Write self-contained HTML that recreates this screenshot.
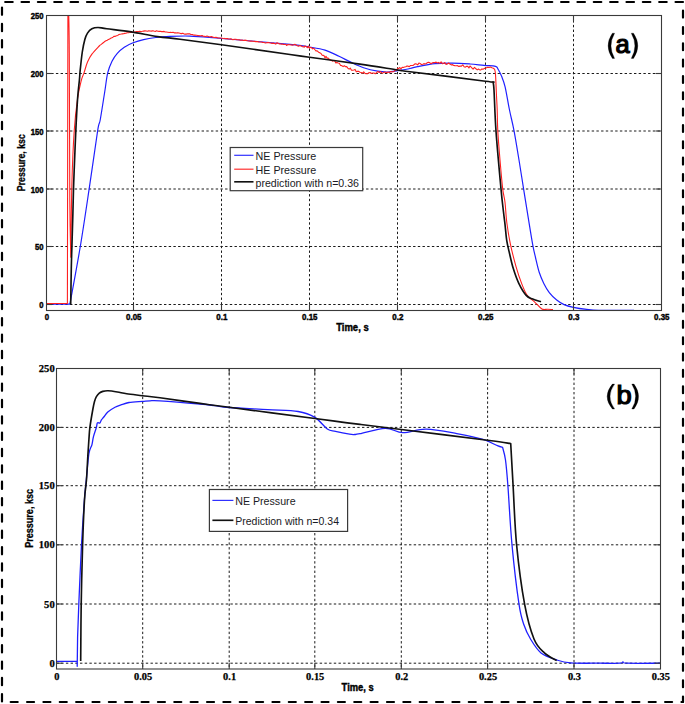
<!DOCTYPE html>
<html><head><meta charset="utf-8"><title>Pressure plots</title>
<style>
html,body{margin:0;padding:0;background:#fff;}
body{width:685px;height:704px;overflow:hidden;font-family:"Liberation Sans", sans-serif;}
svg{display:block;}
</style></head>
<body>
<svg width="685" height="704" viewBox="0 0 685 704" font-family='"Liberation Sans", sans-serif'>
<rect width="685" height="704" fill="#fff"/>
<g stroke="#000" stroke-width="2.2" fill="none" stroke-linecap="round">
<line x1="5.2" y1="2" x2="683" y2="2" stroke-dasharray="7.5 8.85"/>
<line x1="2" y1="7.5" x2="2" y2="702" stroke-dasharray="7.3 9.05"/>
<line x1="10.7" y1="702" x2="683" y2="702" stroke-dasharray="7.0 9.36"/>
<line x1="683" y1="10.7" x2="683" y2="702" stroke-dasharray="6.9 9.43"/>
</g>
<defs><clipPath id="ca"><rect x="46.5" y="15.5" width="615.0" height="295.6"/></clipPath>
<clipPath id="cb"><rect x="56.5" y="368.5" width="604" height="301"/></clipPath></defs>
<g stroke="#1a1a1a" stroke-width="1" stroke-dasharray="2.4 2.3" fill="none">
<line x1="133.5" y1="15.5" x2="133.5" y2="310.5"/>
<line x1="221.5" y1="15.5" x2="221.5" y2="310.5"/>
<line x1="309.5" y1="15.5" x2="309.5" y2="310.5"/>
<line x1="397.5" y1="15.5" x2="397.5" y2="310.5"/>
<line x1="485.5" y1="15.5" x2="485.5" y2="310.5"/>
<line x1="573.5" y1="15.5" x2="573.5" y2="310.5"/>
<line x1="46.5" y1="73.5" x2="661.5" y2="73.5"/>
<line x1="46.5" y1="131.0" x2="661.5" y2="131.0"/>
<line x1="46.5" y1="189.0" x2="661.5" y2="189.0"/>
<line x1="46.5" y1="246.5" x2="661.5" y2="246.5"/>
<line x1="46.5" y1="304.5" x2="661.5" y2="304.5"/>
</g>
<g clip-path="url(#ca)" fill="none" stroke-linejoin="round">
<path d="M46.50,304.20 C50.40,304.20 66.00,304.20 69.90,304.20 C71.63,294.58 77.08,265.75 80.30,246.50 C83.52,227.25 86.32,207.95 89.20,188.70 C92.08,169.45 95.77,142.45 97.60,131.00 C99.43,119.55 99.02,126.50 100.20,120.00 C101.38,113.50 103.45,99.85 104.70,92.00 C105.95,84.15 106.48,78.03 107.70,72.90 C108.92,67.77 110.40,64.47 112.00,61.20 C113.60,57.93 115.25,55.63 117.30,53.30 C119.35,50.97 121.67,48.95 124.30,47.20 C126.93,45.45 129.88,44.07 133.10,42.80 C136.32,41.53 139.82,40.48 143.60,39.60 C147.38,38.72 152.00,38.00 155.80,37.50 C159.60,37.00 160.70,36.83 166.40,36.60 C172.10,36.37 180.82,35.78 190.00,36.10 C199.18,36.42 204.83,37.12 221.50,38.50 C238.17,39.88 275.37,42.98 290.00,44.40 C304.63,45.82 303.47,46.05 309.30,47.00 C315.13,47.95 320.05,48.55 325.00,50.10 C329.95,51.65 334.62,54.25 339.00,56.30 C343.38,58.35 347.20,60.50 351.30,62.40 C355.40,64.30 359.22,66.23 363.60,67.70 C367.98,69.17 373.53,70.48 377.60,71.20 C381.67,71.92 384.65,72.10 388.00,72.00 C391.35,71.90 394.03,71.18 397.70,70.60 C401.37,70.02 406.70,69.17 410.00,68.50 C413.30,67.83 413.33,67.40 417.50,66.60 C421.67,65.80 429.15,64.28 435.00,63.70 C440.85,63.12 446.77,63.05 452.60,63.10 C458.43,63.15 464.77,63.62 470.00,64.00 C475.23,64.38 479.75,65.02 484.00,65.40 C488.25,65.78 493.15,65.65 495.50,66.30 C497.85,66.95 497.08,67.63 498.10,69.30 C499.12,70.97 500.43,73.38 501.60,76.30 C502.77,79.22 503.78,81.18 505.10,86.80 C506.42,92.42 508.02,102.70 509.50,110.00 C510.98,117.30 512.42,122.27 514.00,130.60 C515.58,138.93 517.42,150.38 519.00,160.00 C520.58,169.62 521.98,178.82 523.50,188.30 C525.02,197.78 526.57,207.52 528.10,216.90 C529.63,226.28 531.47,237.83 532.70,244.60 C533.93,251.37 534.42,252.88 535.50,257.50 C536.58,262.12 537.82,267.98 539.20,272.30 C540.58,276.62 542.12,280.02 543.80,283.40 C545.48,286.78 547.15,289.83 549.30,292.60 C551.45,295.37 554.23,298.00 556.70,300.00 C559.17,302.00 561.32,303.38 564.10,304.60 C566.88,305.82 569.65,306.50 573.40,307.30 C577.15,308.10 582.37,308.90 586.60,309.40 C590.83,309.90 590.90,310.15 598.80,310.30 C606.70,310.45 628.13,310.30 634.00,310.30" stroke="#2020ff" stroke-width="1.2"/>
<path d="M46.50,303.50 C49.98,303.50 63.92,303.50 67.40,303.50 C67.48,254.58 67.82,58.92 67.90,10.00 C68.02,10.00 68.48,10.00 68.60,10.00 C68.72,17.17 69.10,21.33 69.30,53.00 C69.50,84.67 69.55,165.97 69.80,200.00 C70.05,234.03 70.63,247.67 70.80,257.20 C70.98,244.92 71.33,204.53 71.90,183.50 C72.47,162.47 73.25,145.18 74.20,131.00 C75.15,116.82 76.40,106.90 77.60,98.40 C78.80,89.90 80.33,84.25 81.40,80.00 C82.47,75.75 82.98,75.90 84.00,72.90 C85.02,69.90 86.18,65.12 87.50,62.00 C88.82,58.88 89.85,56.97 91.90,54.20 C93.95,51.43 98.48,46.87 99.80,45.40 L100.46,44.86 L101.32,44.37 L102.35,43.44 L103.49,42.56 L104.72,41.54 L105.99,40.80 L107.27,40.26 L108.50,39.39 L109.58,38.94 L110.68,38.23 L111.80,37.72 L112.94,37.17 L114.11,36.29 L115.30,36.35 L116.51,35.83 L117.74,35.41 L119.00,34.54 L120.13,34.20 L121.26,34.06 L122.39,33.85 L123.54,33.73 L124.71,33.40 L125.92,33.27 L127.17,32.79 L128.48,32.77 L129.85,32.58 L131.30,32.16 L132.39,32.52 L133.53,32.14 L134.70,32.15 L135.92,31.64 L137.16,31.49 L138.43,31.46 L139.72,31.41 L141.02,31.47 L142.33,31.30 L143.64,31.08 L144.95,30.91 L146.25,30.95 L147.53,31.28 L148.80,30.83 L150.06,31.05 L151.34,31.10 L152.64,30.72 L153.94,31.09 L155.24,31.41 L156.55,30.78 L157.84,31.21 L159.13,31.33 L160.41,31.27 L161.66,31.64 L162.89,31.61 L164.09,31.41 L165.27,31.99 L166.40,32.04 L167.80,32.21 L169.16,32.45 L170.49,32.36 L171.79,32.45 L173.06,32.30 L174.29,32.85 L175.49,32.74 L176.66,32.92 L177.80,32.88 L178.91,33.08 L180.00,33.29 L181.28,33.80 L182.25,33.20 L183.07,33.39 L183.88,33.81 L184.83,34.15 L186.07,34.09 L187.75,33.75 L190.00,33.87 L190.80,34.57 L191.62,34.43 L192.45,34.45 L193.29,34.99 L194.16,35.13 L195.04,35.04 L195.96,35.17 L196.89,35.33 L197.86,35.69 L198.87,35.62 L199.90,35.72 L200.98,35.86 L202.09,35.56 L203.25,36.30 L204.46,36.38 L205.71,36.44 L207.02,36.07 L208.37,36.51 L209.79,36.99 L211.26,36.60 L212.80,37.12 L214.40,37.55 L216.07,37.24 L217.81,38.04 L219.62,38.02 L221.50,38.07 L222.40,38.26 L223.33,38.43 L224.30,38.42 L225.30,38.73 L226.33,38.46 L227.40,38.62 L228.49,39.04 L229.61,38.93 L230.76,38.86 L231.94,39.36 L233.13,39.59 L234.35,39.31 L235.60,39.23 L236.86,39.62 L238.14,39.74 L239.44,39.84 L240.75,40.33 L242.08,39.95 L243.41,40.56 L244.77,40.16 L246.13,40.39 L247.50,40.82 L248.87,41.06 L250.26,41.14 L251.64,41.17 L253.03,41.26 L254.42,41.40 L255.82,41.64 L257.21,41.59 L258.60,41.84 L259.98,42.05 L261.36,42.04 L262.73,42.38 L264.09,42.46 L265.45,43.01 L266.79,42.67 L268.12,42.57 L269.44,42.72 L270.74,42.95 L272.03,43.38 L273.30,43.10 L274.54,43.46 L275.77,44.07 L276.98,42.70 L278.16,43.30 L279.32,43.89 L280.45,44.06 L281.55,44.12 L282.62,43.98 L283.67,44.49 L284.68,44.45 L285.66,44.25 L286.60,45.49 L287.51,44.78 L288.38,44.51 L289.21,44.78 L290.00,44.81 L292.58,45.15 L294.84,44.25 L296.82,45.41 L298.53,46.26 L300.02,45.45 L301.31,46.09 L302.42,46.70 L303.39,46.78 L304.24,47.20 L305.00,45.79 L305.70,46.55 L306.37,46.68 L307.04,47.29 L307.73,47.67 L308.47,45.98 L309.30,48.04 L311.11,47.26 L312.61,48.87 L313.86,48.30 L314.95,49.75 L315.95,50.89 L316.94,50.79 L318.00,51.60 L319.07,52.58 L320.07,52.88 L321.02,53.43 L321.96,55.03 L322.92,55.47 L323.92,55.42 L325.00,57.88 L325.98,56.26 L326.95,58.08 L327.94,58.02 L328.96,58.89 L330.04,59.88 L331.19,60.25 L332.44,61.18 L333.80,60.58 L334.79,61.08 L335.85,62.87 L336.98,62.45 L338.15,62.95 L339.36,63.23 L340.59,65.42 L341.83,65.65 L343.07,66.62 L344.30,65.70 L345.51,66.77 L346.68,66.56 L347.80,68.16 L349.08,69.18 L350.33,68.20 L351.54,70.17 L352.72,70.31 L353.90,70.07 L355.08,69.43 L356.26,71.86 L357.47,71.33 L358.72,71.35 L360.00,72.24 L361.21,72.46 L362.44,73.29 L363.69,71.93 L364.96,73.34 L366.24,73.63 L367.53,73.68 L368.83,72.74 L370.13,72.43 L371.43,73.50 L372.72,72.97 L374.00,72.97 L375.29,73.75 L376.60,72.71 L377.93,71.45 L379.27,72.54 L380.61,71.60 L381.93,73.12 L383.23,72.72 L384.49,72.05 L385.72,72.29 L386.89,72.65 L388.00,72.05 L389.40,72.56 L390.65,71.47 L391.82,71.84 L392.92,71.79 L394.02,71.52 L395.16,69.79 L396.37,70.33 L397.70,68.27 L398.75,68.43 L399.85,67.55 L400.98,68.99 L402.15,67.21 L403.34,67.54 L404.54,67.03 L405.75,66.73 L406.96,66.01 L408.16,66.15 L409.34,66.76 L410.50,65.43 L411.73,65.45 L412.94,65.50 L414.12,64.57 L415.29,63.75 L416.47,64.00 L417.66,64.83 L418.88,63.07 L420.13,63.57 L421.43,64.42 L422.80,64.18 L423.90,63.62 L425.04,64.01 L426.22,63.54 L427.43,62.65 L428.66,62.34 L429.91,62.83 L431.17,63.71 L432.42,62.77 L433.68,62.53 L434.92,62.59 L436.14,62.13 L437.34,62.99 L438.50,62.39 L439.83,63.39 L441.12,61.86 L442.37,63.61 L443.61,63.18 L444.83,62.57 L446.06,64.36 L447.30,63.96 L448.56,62.98 L449.86,64.00 L451.20,64.89 L452.60,64.62 L453.76,65.51 L454.96,65.63 L456.22,65.72 L457.50,65.66 L458.81,66.41 L460.14,66.15 L461.46,66.17 L462.78,64.80 L464.09,66.74 L465.36,67.14 L466.60,66.33 L467.80,66.39 L468.93,68.00 L470.00,65.95 L471.58,67.57 L473.09,69.09 L474.54,67.45 L475.91,68.79 L477.21,69.87 L478.42,68.99 L479.54,69.67 L480.57,70.06 L481.50,69.06 L483.36,69.10 L484.43,68.36 L485.80,68.00 L487.15,67.42 L488.78,67.42 L490.44,67.10 L491.89,67.68 L492.90,68.00 C493.18,68.22 494.32,69.08 494.60,69.30 C494.75,70.17 495.20,70.42 495.50,74.50 C495.80,78.58 496.12,87.88 496.40,93.80 C496.68,99.72 496.97,103.78 497.20,110.00 C497.43,116.22 497.33,122.77 497.80,131.10 C498.27,139.43 499.18,150.37 500.00,160.00 C500.82,169.63 501.87,181.87 502.70,188.90 C503.53,195.93 504.32,196.60 505.00,202.20 C505.68,207.80 505.88,215.43 506.80,222.50 C507.72,229.57 508.95,237.22 510.50,244.60 C512.05,251.98 514.25,260.33 516.10,266.80 C517.95,273.27 519.75,278.63 521.60,283.40 C523.45,288.17 525.05,292.33 527.20,295.40 C529.35,298.47 532.05,299.53 534.50,301.80 C536.95,304.07 539.73,307.77 541.90,309.00 C544.07,310.23 545.65,309.12 547.50,309.20 C549.35,309.28 552.08,309.45 553.00,309.50" stroke="#ff2020" stroke-width="1.1"/>
<path d="M70.70,304.50 C70.80,298.42 71.10,277.63 71.30,268.00 C71.50,258.37 71.63,255.87 71.90,246.70 C72.17,237.53 72.63,222.63 72.90,213.00 C73.17,203.37 73.28,196.07 73.50,188.90 C73.72,181.73 73.82,179.63 74.20,170.00 C74.58,160.37 75.23,143.03 75.80,131.10 C76.37,119.17 77.00,106.92 77.60,98.40 C78.20,89.88 78.97,84.70 79.40,80.00 C79.83,75.30 79.72,74.87 80.20,70.20 C80.68,65.53 81.52,57.15 82.30,52.00 C83.08,46.85 84.03,42.45 84.90,39.30 C85.77,36.15 86.33,34.85 87.50,33.10 C88.67,31.35 90.15,29.73 91.90,28.80 C93.65,27.87 95.52,27.50 98.00,27.50 C100.48,27.50 101.25,28.07 106.80,28.80 C112.35,29.53 122.83,30.60 131.30,31.90 C139.77,33.20 149.48,35.38 157.60,36.60 C165.72,37.82 169.35,37.85 180.00,39.20 C190.65,40.55 203.17,42.15 221.50,44.70 C239.83,47.25 275.33,52.42 290.00,54.50 C304.67,56.58 297.83,55.60 309.50,57.20 C321.17,58.80 345.30,61.97 360.00,64.10 C374.70,66.23 389.37,68.73 397.70,70.00 C406.03,71.27 395.37,69.83 410.00,71.70 C424.63,73.57 471.67,79.50 485.50,81.20 C499.33,82.90 491.75,81.78 493.00,81.90 C493.17,83.25 493.50,81.80 494.00,90.00 C494.50,98.20 494.83,114.62 496.00,131.10 C497.17,147.58 499.75,175.42 501.00,188.90 C502.25,202.38 502.83,206.10 503.50,212.00 C504.17,217.90 504.45,219.48 505.00,224.30 C505.55,229.12 506.03,235.98 506.80,240.90 C507.57,245.82 508.52,249.18 509.60,253.80 C510.68,258.42 511.77,263.67 513.30,268.60 C514.83,273.53 516.65,278.93 518.80,283.40 C520.95,287.87 523.88,292.78 526.20,295.40 C528.52,298.02 530.23,298.03 532.70,299.10 C535.17,300.17 539.62,301.35 541.00,301.80" stroke="#111" stroke-width="1.65"/>
</g>
<g stroke="#3a3a3a" stroke-width="1.1" fill="none">
<rect x="46.5" y="15.5" width="615.0" height="295.0"/>
<line x1="133.5" y1="310.5" x2="133.5" y2="304.5"/>
<line x1="133.5" y1="15.5" x2="133.5" y2="21.5"/>
<line x1="221.5" y1="310.5" x2="221.5" y2="304.5"/>
<line x1="221.5" y1="15.5" x2="221.5" y2="21.5"/>
<line x1="309.5" y1="310.5" x2="309.5" y2="304.5"/>
<line x1="309.5" y1="15.5" x2="309.5" y2="21.5"/>
<line x1="397.5" y1="310.5" x2="397.5" y2="304.5"/>
<line x1="397.5" y1="15.5" x2="397.5" y2="21.5"/>
<line x1="485.5" y1="310.5" x2="485.5" y2="304.5"/>
<line x1="485.5" y1="15.5" x2="485.5" y2="21.5"/>
<line x1="573.5" y1="310.5" x2="573.5" y2="304.5"/>
<line x1="573.5" y1="15.5" x2="573.5" y2="21.5"/>
<line x1="46.5" y1="73.5" x2="52.5" y2="73.5"/>
<line x1="661.5" y1="73.5" x2="655.5" y2="73.5"/>
<line x1="46.5" y1="131.0" x2="52.5" y2="131.0"/>
<line x1="661.5" y1="131.0" x2="655.5" y2="131.0"/>
<line x1="46.5" y1="189.0" x2="52.5" y2="189.0"/>
<line x1="661.5" y1="189.0" x2="655.5" y2="189.0"/>
<line x1="46.5" y1="246.5" x2="52.5" y2="246.5"/>
<line x1="661.5" y1="246.5" x2="655.5" y2="246.5"/>
<line x1="46.5" y1="304.5" x2="52.5" y2="304.5"/>
<line x1="661.5" y1="304.5" x2="655.5" y2="304.5"/>
</g>
<rect x="230.2" y="147.5" width="132.5" height="43.2" fill="#fff" stroke="#3a3a3a" stroke-width="1.2"/>
<line x1="234.2" y1="155.3" x2="253.5" y2="155.3" stroke="#3030ff" stroke-width="1.2"/>
<line x1="234.2" y1="169.2" x2="253.5" y2="169.2" stroke="#ff3030" stroke-width="1.2"/>
<line x1="234.2" y1="181.8" x2="253.5" y2="181.8" stroke="#111" stroke-width="1.65"/>
<g font-family='"Liberation Sans", sans-serif'>
<text x="255.5" y="159.9" font-size="10.4" font-weight="normal" text-anchor="start" fill="#1a1a24" textLength="60.8" lengthAdjust="spacingAndGlyphs">NE Pressure</text>
<text x="255.5" y="173.6" font-size="10.4" font-weight="normal" text-anchor="start" fill="#1a1a24" textLength="60.8" lengthAdjust="spacingAndGlyphs">HE Pressure</text>
<text x="255.5" y="187.2" font-size="10.4" font-weight="normal" text-anchor="start" fill="#1a1a24" textLength="103.5" lengthAdjust="spacingAndGlyphs">prediction with n=0.36</text>
<text x="43.6" y="19.0" font-size="8.4" font-weight="bold" text-anchor="end" fill="#000" textLength="12.899999999999999" lengthAdjust="spacingAndGlyphs" stroke="#000" stroke-width="0.4">250</text>
<text x="43.6" y="77.0" font-size="8.4" font-weight="bold" text-anchor="end" fill="#000" textLength="12.899999999999999" lengthAdjust="spacingAndGlyphs" stroke="#000" stroke-width="0.4">200</text>
<text x="43.6" y="134.5" font-size="8.4" font-weight="bold" text-anchor="end" fill="#000" textLength="12.899999999999999" lengthAdjust="spacingAndGlyphs" stroke="#000" stroke-width="0.4">150</text>
<text x="43.6" y="192.5" font-size="8.4" font-weight="bold" text-anchor="end" fill="#000" textLength="12.899999999999999" lengthAdjust="spacingAndGlyphs" stroke="#000" stroke-width="0.4">100</text>
<text x="43.6" y="250.0" font-size="8.4" font-weight="bold" text-anchor="end" fill="#000" textLength="8.6" lengthAdjust="spacingAndGlyphs" stroke="#000" stroke-width="0.4">50</text>
<text x="43.6" y="308.0" font-size="8.4" font-weight="bold" text-anchor="end" fill="#000" textLength="4.3" lengthAdjust="spacingAndGlyphs" stroke="#000" stroke-width="0.4">0</text>
<text x="46.8" y="320.2" font-size="8.4" font-weight="bold" text-anchor="middle" fill="#000" textLength="4.35" lengthAdjust="spacingAndGlyphs" stroke="#000" stroke-width="0.4">0</text>
<text x="133.8" y="320.2" font-size="8.4" font-weight="bold" text-anchor="middle" fill="#000" textLength="15.45" lengthAdjust="spacingAndGlyphs" stroke="#000" stroke-width="0.4">0.05</text>
<text x="221.8" y="320.2" font-size="8.4" font-weight="bold" text-anchor="middle" fill="#000" textLength="11.1" lengthAdjust="spacingAndGlyphs" stroke="#000" stroke-width="0.4">0.1</text>
<text x="309.8" y="320.2" font-size="8.4" font-weight="bold" text-anchor="middle" fill="#000" textLength="15.45" lengthAdjust="spacingAndGlyphs" stroke="#000" stroke-width="0.4">0.15</text>
<text x="397.8" y="320.2" font-size="8.4" font-weight="bold" text-anchor="middle" fill="#000" textLength="11.1" lengthAdjust="spacingAndGlyphs" stroke="#000" stroke-width="0.4">0.2</text>
<text x="485.8" y="320.2" font-size="8.4" font-weight="bold" text-anchor="middle" fill="#000" textLength="15.45" lengthAdjust="spacingAndGlyphs" stroke="#000" stroke-width="0.4">0.25</text>
<text x="573.8" y="320.2" font-size="8.4" font-weight="bold" text-anchor="middle" fill="#000" textLength="11.1" lengthAdjust="spacingAndGlyphs" stroke="#000" stroke-width="0.4">0.3</text>
<text x="661.8" y="320.2" font-size="8.4" font-weight="bold" text-anchor="middle" fill="#000" textLength="15.45" lengthAdjust="spacingAndGlyphs" stroke="#000" stroke-width="0.4">0.35</text>
<text x="336.2" y="330.7" font-size="10.8" font-weight="bold" text-anchor="start" fill="#000" textLength="32.5" lengthAdjust="spacingAndGlyphs" stroke="#000" stroke-width="0.4">Time, s</text>
<text transform="translate(24.8,191.2) rotate(-90)" font-size="11.4" font-weight="bold" stroke="#000" stroke-width="0.3" textLength="57" lengthAdjust="spacingAndGlyphs">Pressure, ksc</text>
<path d="M612.40,33.2 Q603.80,45.80 612.40,58.4 L614.60,58.4 Q607.40,45.80 614.60,33.2 Z" fill="#000" stroke="#000" stroke-width="0.3"/>
<path d="M633.50,33.2 Q642.10,45.80 633.50,58.4 L631.30,58.4 Q638.50,45.80 631.30,33.2 Z" fill="#000" stroke="#000" stroke-width="0.3"/>
<text x="615.6" y="53.3" font-size="25" font-weight="normal" text-anchor="start" fill="#000" textLength="14.2" lengthAdjust="spacingAndGlyphs" stroke="#000" stroke-width="1.2">a</text>
</g>
<g stroke="#1a1a1a" stroke-width="1" stroke-dasharray="2.4 2.3" fill="none">
<line x1="142.7" y1="368.5" x2="142.7" y2="669.0"/>
<line x1="229.2" y1="368.5" x2="229.2" y2="669.0"/>
<line x1="314.8" y1="368.5" x2="314.8" y2="669.0"/>
<line x1="401.3" y1="368.5" x2="401.3" y2="669.0"/>
<line x1="487.6" y1="368.5" x2="487.6" y2="669.0"/>
<line x1="574.0" y1="368.5" x2="574.0" y2="669.0"/>
<line x1="56.5" y1="427.4" x2="660.5" y2="427.4"/>
<line x1="56.5" y1="485.7" x2="660.5" y2="485.7"/>
<line x1="56.5" y1="544.8" x2="660.5" y2="544.8"/>
<line x1="56.5" y1="604.0" x2="660.5" y2="604.0"/>
<line x1="56.5" y1="663.2" x2="660.5" y2="663.2"/>
</g>
<g clip-path="url(#cb)" fill="none" stroke-linejoin="round">
<path d="M56.50,661.30 C59.95,661.30 73.75,661.30 77.20,661.30 C77.20,662.13 77.20,665.47 77.20,666.30 C77.27,661.42 77.53,641.88 77.60,637.00 C77.80,631.55 78.15,619.65 78.80,604.30 C79.45,588.95 80.57,562.28 81.50,544.90 C82.43,527.52 83.60,510.82 84.40,500.00 C85.20,489.18 85.55,487.72 86.30,480.00 C87.05,472.28 87.97,459.57 88.90,453.70 C89.83,447.83 91.15,447.62 91.90,444.80 C92.65,441.98 92.65,439.70 93.40,436.80 C94.15,433.90 95.73,429.72 96.40,427.40 C97.07,425.08 96.82,423.65 97.40,422.90 C97.98,422.15 99.23,423.40 99.90,422.90 C100.57,422.40 100.75,420.88 101.40,419.90 C102.05,418.92 102.73,418.32 103.80,417.00 C104.87,415.68 105.93,413.63 107.80,412.00 C109.67,410.37 112.82,408.38 115.00,407.20 C117.18,406.02 118.57,405.68 120.90,404.90 C123.23,404.12 125.40,403.08 129.00,402.50 C132.60,401.92 139.00,401.68 142.50,401.40 C146.00,401.12 147.08,400.90 150.00,400.80 C152.92,400.70 151.67,400.27 160.00,400.80 C168.33,401.33 190.83,403.18 200.00,404.00 C209.17,404.82 210.13,405.12 215.00,405.70 C219.87,406.28 220.42,406.83 229.20,407.50 C237.98,408.17 256.22,409.03 267.70,409.70 C279.18,410.37 290.23,410.22 298.10,411.50 C305.97,412.78 310.03,414.48 314.90,417.40 C319.77,420.32 323.87,426.67 327.30,429.00 C330.73,431.33 331.80,430.53 335.50,431.40 C339.20,432.27 346.32,433.68 349.50,434.20 C352.68,434.72 352.85,434.58 354.60,434.50 C356.35,434.42 354.88,434.73 360.00,433.70 C365.12,432.67 378.17,428.47 385.30,428.30 C392.43,428.13 396.00,432.55 402.80,432.70 C409.60,432.85 417.10,429.05 426.10,429.20 C435.10,429.35 447.32,431.90 456.80,433.60 C466.28,435.30 476.23,437.38 483.00,439.40 C489.77,441.42 494.13,444.37 497.40,445.70 C500.67,447.03 501.73,447.12 502.60,447.40 C503.08,449.50 504.62,453.62 505.50,460.00 C506.38,466.38 506.82,471.55 507.90,485.70 C508.98,499.85 510.15,525.15 512.00,544.90 C513.85,564.65 517.00,590.85 519.00,604.20 C521.00,617.55 522.08,619.20 524.00,625.00 C525.92,630.80 527.67,634.35 530.50,639.00 C533.33,643.65 536.65,649.42 541.00,652.90 C545.35,656.38 551.67,658.23 556.60,659.90 C561.53,661.57 563.37,662.35 570.60,662.90 C577.83,663.45 591.77,663.15 600.00,663.20 C608.23,663.25 616.17,663.40 620.00,663.20 C623.83,663.00 621.83,662.00 623.00,662.00 C624.17,662.00 620.75,663.00 627.00,663.20 C633.25,663.40 654.92,663.20 660.50,663.20" stroke="#2020ff" stroke-width="1.3"/>
<path d="M80.70,661.00 C80.78,651.55 80.88,623.65 81.20,604.30 C81.52,584.95 82.05,562.28 82.60,544.90 C83.15,527.52 83.85,510.90 84.50,500.00 C85.15,489.10 85.93,487.05 86.50,479.50 C87.07,471.95 87.50,461.32 87.90,454.70 C88.30,448.08 88.57,444.35 88.90,439.80 C89.23,435.25 89.23,432.53 89.90,427.40 C90.57,422.27 92.13,413.32 92.90,409.00 C93.67,404.68 93.92,403.55 94.50,401.50 C95.08,399.45 95.60,398.08 96.40,396.70 C97.20,395.32 98.23,394.08 99.30,393.20 C100.37,392.32 101.35,391.80 102.80,391.40 C104.25,391.00 105.57,390.70 108.00,390.80 C110.43,390.90 114.28,391.50 117.40,392.00 C120.52,392.50 122.52,393.18 126.70,393.80 C130.88,394.42 136.95,395.03 142.50,395.70 C148.05,396.37 150.42,396.52 160.00,397.80 C169.58,399.08 188.47,401.82 200.00,403.40 C211.53,404.98 210.05,404.78 229.20,407.30 C248.35,409.82 296.43,416.07 314.90,418.50 C333.37,420.93 332.48,420.92 340.00,421.90 C347.52,422.88 349.78,423.13 360.00,424.40 C370.22,425.67 380.07,426.85 401.30,429.50 C422.53,432.15 469.17,437.97 487.40,440.30 C505.63,442.63 506.82,442.97 510.70,443.50 C511.10,450.53 512.12,468.80 513.10,485.70 C514.08,502.60 514.68,525.15 516.60,544.90 C518.52,564.65 521.70,588.52 524.60,604.20 C527.50,619.88 530.70,630.88 534.00,639.00 C537.30,647.12 540.63,649.30 544.40,652.90 C548.17,656.50 554.57,659.32 556.60,660.60" stroke="#111" stroke-width="1.65"/>
</g>
<g stroke="#3a3a3a" stroke-width="1.1" fill="none">
<rect x="56.5" y="368.5" width="604.0" height="300.5"/>
<line x1="142.7" y1="669.0" x2="142.7" y2="663.0"/>
<line x1="142.7" y1="368.5" x2="142.7" y2="374.5"/>
<line x1="229.2" y1="669.0" x2="229.2" y2="663.0"/>
<line x1="229.2" y1="368.5" x2="229.2" y2="374.5"/>
<line x1="314.8" y1="669.0" x2="314.8" y2="663.0"/>
<line x1="314.8" y1="368.5" x2="314.8" y2="374.5"/>
<line x1="401.3" y1="669.0" x2="401.3" y2="663.0"/>
<line x1="401.3" y1="368.5" x2="401.3" y2="374.5"/>
<line x1="487.6" y1="669.0" x2="487.6" y2="663.0"/>
<line x1="487.6" y1="368.5" x2="487.6" y2="374.5"/>
<line x1="574.0" y1="669.0" x2="574.0" y2="663.0"/>
<line x1="574.0" y1="368.5" x2="574.0" y2="374.5"/>
<line x1="56.5" y1="427.4" x2="62.5" y2="427.4"/>
<line x1="660.5" y1="427.4" x2="654.5" y2="427.4"/>
<line x1="56.5" y1="485.7" x2="62.5" y2="485.7"/>
<line x1="660.5" y1="485.7" x2="654.5" y2="485.7"/>
<line x1="56.5" y1="544.8" x2="62.5" y2="544.8"/>
<line x1="660.5" y1="544.8" x2="654.5" y2="544.8"/>
<line x1="56.5" y1="604.0" x2="62.5" y2="604.0"/>
<line x1="660.5" y1="604.0" x2="654.5" y2="604.0"/>
<line x1="56.5" y1="663.2" x2="62.5" y2="663.2"/>
<line x1="660.5" y1="663.2" x2="654.5" y2="663.2"/>
</g>
<rect x="209.4" y="489.5" width="138.2" height="41.9" fill="#fff" stroke="#3a3a3a" stroke-width="1.2"/>
<line x1="212.4" y1="500.4" x2="233.4" y2="500.4" stroke="#3030ff" stroke-width="1.2"/>
<line x1="212.4" y1="520.3" x2="233.4" y2="520.3" stroke="#111" stroke-width="1.65"/>
<g font-family='"Liberation Sans", sans-serif'>
<text x="235.2" y="504.8" font-size="10.6" font-weight="normal" text-anchor="start" fill="#1a1a24" textLength="60.4" lengthAdjust="spacingAndGlyphs">NE Pressure</text>
<text x="235.2" y="525.3" font-size="10.6" font-weight="normal" text-anchor="start" fill="#1a1a24" textLength="103.8" lengthAdjust="spacingAndGlyphs">Prediction with n=0.34</text>
<text x="54.7" y="372.1" font-size="10.6" font-weight="bold" text-anchor="end" fill="#000" font-family="Liberation Serif, serif" stroke="#000" stroke-width="0.25">250</text>
<text x="54.7" y="431.0" font-size="10.6" font-weight="bold" text-anchor="end" fill="#000" font-family="Liberation Serif, serif" stroke="#000" stroke-width="0.25">200</text>
<text x="54.7" y="489.3" font-size="10.6" font-weight="bold" text-anchor="end" fill="#000" font-family="Liberation Serif, serif" stroke="#000" stroke-width="0.25">150</text>
<text x="54.7" y="548.4" font-size="10.6" font-weight="bold" text-anchor="end" fill="#000" font-family="Liberation Serif, serif" stroke="#000" stroke-width="0.25">100</text>
<text x="54.7" y="607.6" font-size="10.6" font-weight="bold" text-anchor="end" fill="#000" font-family="Liberation Serif, serif" stroke="#000" stroke-width="0.25">50</text>
<text x="54.7" y="666.8000000000001" font-size="10.6" font-weight="bold" text-anchor="end" fill="#000" font-family="Liberation Serif, serif" stroke="#000" stroke-width="0.25">0</text>
<text x="56.9" y="679.8" font-size="10.4" font-weight="bold" text-anchor="middle" fill="#000" font-family="Liberation Serif, serif" stroke="#000" stroke-width="0.25">0</text>
<text x="143.1" y="679.8" font-size="10.4" font-weight="bold" text-anchor="middle" fill="#000" font-family="Liberation Serif, serif" stroke="#000" stroke-width="0.25">0.05</text>
<text x="229.6" y="679.8" font-size="10.4" font-weight="bold" text-anchor="middle" fill="#000" font-family="Liberation Serif, serif" stroke="#000" stroke-width="0.25">0.1</text>
<text x="315.2" y="679.8" font-size="10.4" font-weight="bold" text-anchor="middle" fill="#000" font-family="Liberation Serif, serif" stroke="#000" stroke-width="0.25">0.15</text>
<text x="401.7" y="679.8" font-size="10.4" font-weight="bold" text-anchor="middle" fill="#000" font-family="Liberation Serif, serif" stroke="#000" stroke-width="0.25">0.2</text>
<text x="488.0" y="679.8" font-size="10.4" font-weight="bold" text-anchor="middle" fill="#000" font-family="Liberation Serif, serif" stroke="#000" stroke-width="0.25">0.25</text>
<text x="574.4" y="679.8" font-size="10.4" font-weight="bold" text-anchor="middle" fill="#000" font-family="Liberation Serif, serif" stroke="#000" stroke-width="0.25">0.3</text>
<text x="660.9" y="679.8" font-size="10.4" font-weight="bold" text-anchor="middle" fill="#000" font-family="Liberation Serif, serif" stroke="#000" stroke-width="0.25">0.35</text>
<text x="341.6" y="690.9" font-size="10.8" font-weight="bold" text-anchor="start" fill="#000" textLength="32.1" lengthAdjust="spacingAndGlyphs" stroke="#000" stroke-width="0.4">Time, s</text>
<text transform="translate(33.4,547.8) rotate(-90)" font-size="11.4" font-weight="bold" stroke="#000" stroke-width="0.3" textLength="58.8" lengthAdjust="spacingAndGlyphs">Pressure, ksc</text>
<path d="M612.40,384.1 Q601.80,396.55 612.40,409.0 L614.60,409.0 Q605.40,396.55 614.60,384.1 Z" fill="#000" stroke="#000" stroke-width="0.3"/>
<path d="M634.00,384.1 Q643.20,396.55 634.00,409.0 L631.80,409.0 Q639.60,396.55 631.80,384.1 Z" fill="#000" stroke="#000" stroke-width="0.3"/>
<text x="616.6" y="404.2" font-size="25.5" font-weight="normal" text-anchor="start" fill="#000" textLength="15.2" lengthAdjust="spacingAndGlyphs" stroke="#000" stroke-width="1.2">b</text>
</g>
</svg>
</body></html>
